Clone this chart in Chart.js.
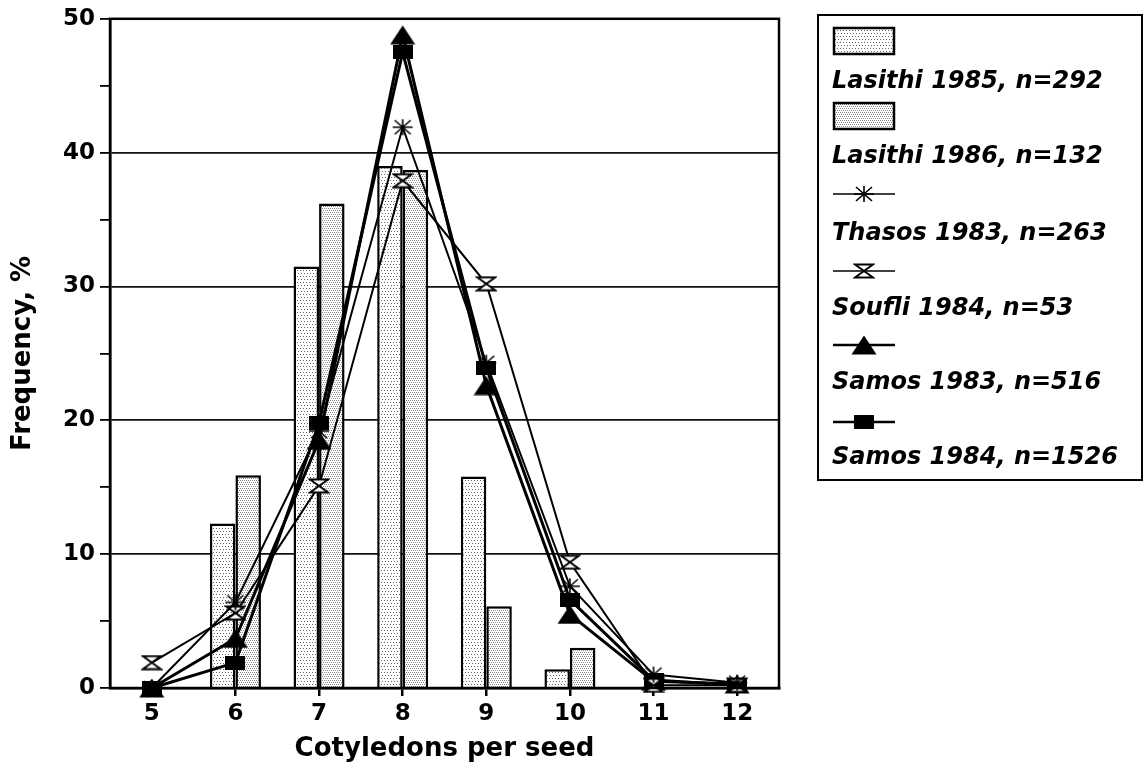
<!DOCTYPE html>
<html><head><meta charset="utf-8">
<script src="https://cdn.jsdelivr.net/npm/chart.js@4/dist/chart.umd.min.js"></script>
<style>html,body{margin:0;padding:0;background:#fff}canvas{display:block}</style>
</head><body>
<canvas id="c" width="1144" height="767"></canvas>
<script>
// ---- data ----
const categories = ['5', '6', '7', '8', '9', '10', '11', '12'];
const seriesLabels = ['Lasithi 1985, n=292', 'Lasithi 1986, n=132', 'Thasos 1983, n=263', 'Soufli 1984, n=53', 'Samos 1983, n=516', 'Samos 1984, n=1526'];
const lasithi1985 = [0, 12.3, 31.5, 39.0, 15.8, 1.4, 0, 0];
const lasithi1986 = [0, 15.9, 36.2, 38.7, 6.1, 3.0, 0, 0];
const thasos1983 = [0, 6.4, 19.2, 41.9, 24.3, 7.6, 1.0, 0.4];
const soufli1984 = [1.9, 5.6, 15.1, 37.9, 30.2, 9.4, 0.2, 0.2];
const samos1983 = [0, 3.7, 18.5, 48.8, 22.6, 5.5, 0.5, 0.3];
const samos1984 = [0, 1.9, 19.8, 47.5, 23.9, 6.6, 0.6, 0.2];
const yMajorTicks = [0, 10, 20, 30, 40, 50];

// ---- styling helpers ----
const FONT = '"DejaVu Sans", "Liberation Sans", Arial, sans-serif';
function mk(w, h, draw) { const c = document.createElement('canvas'); c.width = w; c.height = h; draw(c.getContext('2d'), w, h); return c; }
function dotPattern(size, dots, col) {
  const c = mk(size, size, (x) => { x.fillStyle = '#fff'; x.fillRect(0, 0, size, size); x.fillStyle = col; dots.forEach(([a, b]) => x.fillRect(a, b, 1, 1)); });
  return c.getContext('2d').createPattern(c, 'repeat');
}
const pat1985 = dotPattern(6, [[0, 0], [3, 0], [1, 3], [4, 3]], '#666');
const pat1986 = dotPattern(4, [[0, 0], [2, 0], [1, 2], [3, 2]], '#888');

const starImg = mk(22, 18, (x, w, h) => { x.strokeStyle = '#000'; x.lineWidth = 1.6; x.beginPath();
  x.moveTo(w / 2, 1); x.lineTo(w / 2, h - 1); x.moveTo(1, h / 2); x.lineTo(w - 1, h / 2);
  x.moveTo(3, 2); x.lineTo(w - 3, h - 2); x.moveTo(w - 3, 2); x.lineTo(3, h - 2); x.stroke(); });
const hourImg = mk(22, 16, (x) => { x.strokeStyle = '#000'; x.lineWidth = 2; x.beginPath();
  x.moveTo(2, 1.5); x.lineTo(20, 1.5); x.lineTo(2, 14.5); x.lineTo(20, 14.5); x.closePath();
  x.fillStyle = '#fff'; x.fill(); x.stroke(); });
const triImg = mk(26, 20, (x) => { x.fillStyle = '#000'; x.beginPath(); x.moveTo(13, 0.5); x.lineTo(25.5, 19.5); x.lineTo(0.5, 19.5); x.closePath(); x.fill(); });
const rectImg = mk(20, 14, (x) => { x.fillStyle = '#000'; x.fillRect(0, 0, 20, 14); });

function lineDs(label, data, img, bw) {
  return { type: 'line', label, data, borderColor: '#000', borderWidth: bw, pointStyle: img, pointRadius: 8,
    backgroundColor: '#000', fill: false, tension: 0, clip: false, order: 1 };
}

const frame = {
  id: 'frame',
  afterDatasetsDraw(chart) {
    const { ctx, chartArea: a } = chart;
    ctx.save(); ctx.strokeStyle = '#000'; ctx.lineWidth = 2.5;
    ctx.strokeRect(a.left, a.top, a.right - a.left, a.bottom - a.top); ctx.restore();
  }
};

const sideLegend = {
  id: 'sideLegend',
  afterDraw(chart) {
    const ctx = chart.ctx;
    ctx.save();
    ctx.strokeStyle = '#000'; ctx.lineWidth = 2;
    ctx.strokeRect(818, 15, 324, 465);
    const symY = [41, 116, 194, 271, 345, 422];
    const txtY = [88, 163, 240, 315, 389, 464];
    chart.data.datasets.forEach((ds, i) => {
      const y = symY[i];
      if (ds.type === 'bar' || !ds.type) {
        ctx.fillStyle = ds.backgroundColor; ctx.fillRect(834, y - 13, 60, 26);
        ctx.lineWidth = 2.5; ctx.strokeStyle = '#000'; ctx.strokeRect(834, y - 13, 60, 26);
      } else {
        ctx.lineWidth = ds.borderWidth - 0.5; ctx.strokeStyle = '#000';
        ctx.beginPath(); ctx.moveTo(833, y); ctx.lineTo(895, y); ctx.stroke();
        const img = ds.pointStyle; ctx.drawImage(img, 864 - img.width / 2, y - img.height / 2);
      }
      ctx.fillStyle = '#000'; ctx.font = 'italic bold 24px ' + FONT; ctx.textBaseline = 'alphabetic'; ctx.textAlign = 'left';
      ctx.fillText(ds.label, 832, txtY[i]);
    });
    ctx.restore();
  }
};

new Chart(document.getElementById('c'), {
  type: 'bar',
  data: {
    labels: categories,
    datasets: [
      { type: 'bar', label: seriesLabels[0], data: lasithi1985, backgroundColor: pat1985, borderColor: '#000', borderWidth: 2.5, order: 10 },
      { type: 'bar', label: seriesLabels[1], data: lasithi1986, backgroundColor: pat1986, borderColor: '#000', borderWidth: 2.5, order: 10 },
      lineDs(seriesLabels[2], thasos1983, starImg, 2),
      lineDs(seriesLabels[3], soufli1984, hourImg, 2),
      lineDs(seriesLabels[4], samos1983, triImg, 3),
      lineDs(seriesLabels[5], samos1984, rectImg, 3)
    ]
  },
  options: {
    responsive: false, animation: false, devicePixelRatio: 1,
    layout: { padding: { top: 17, right: 365, left: 0, bottom: 0 } },
    datasets: { bar: { barPercentage: 1, categoryPercentage: 0.61 } },
    plugins: { legend: { display: false }, tooltip: { enabled: false } },
    scales: {
      x: {
        offset: true,
        grid: { offset: false, drawOnChartArea: false, drawTicks: true, tickLength: 8, color: '#000', lineWidth: 2.5 },
        border: { color: '#000', width: 2.5 },
        ticks: { color: '#000', padding: 4, font: { family: FONT, weight: 'bold', size: 23 } },
        title: { display: true, text: 'Cotyledons per seed', color: '#000', padding: { top: 0, bottom: 2 }, font: { family: FONT, weight: 'bold', size: 26 } },
        afterFit(s) { s.height = 79; }
      },
      y: {
        min: 0, max: 50,
        afterBuildTicks(s) { s.ticks = []; for (let v = 0; v <= 50; v += 5) s.ticks.push({ value: v }); },
        ticks: { color: '#000', padding: 5, autoSkip: false, font: { family: FONT, weight: 'bold', size: 23 },
          callback: (v) => yMajorTicks.includes(v) ? String(v) : '' },
        grid: { color: (c) => (c.tick && c.tick.value % 10 === 0) ? '#111' : 'rgba(0,0,0,0)', tickColor: '#000', lineWidth: 1.8, tickLength: 10 },
        border: { color: '#000', width: 2.5 },
        title: { display: true, text: 'Frequency, %', color: '#000', padding: { top: 8, bottom: 0 }, font: { family: FONT, weight: 'bold', size: 26 } },
        afterFit(s) { s.width = 110; }
      }
    }
  },
  plugins: [frame, sideLegend]
});
</script>
</body></html>
